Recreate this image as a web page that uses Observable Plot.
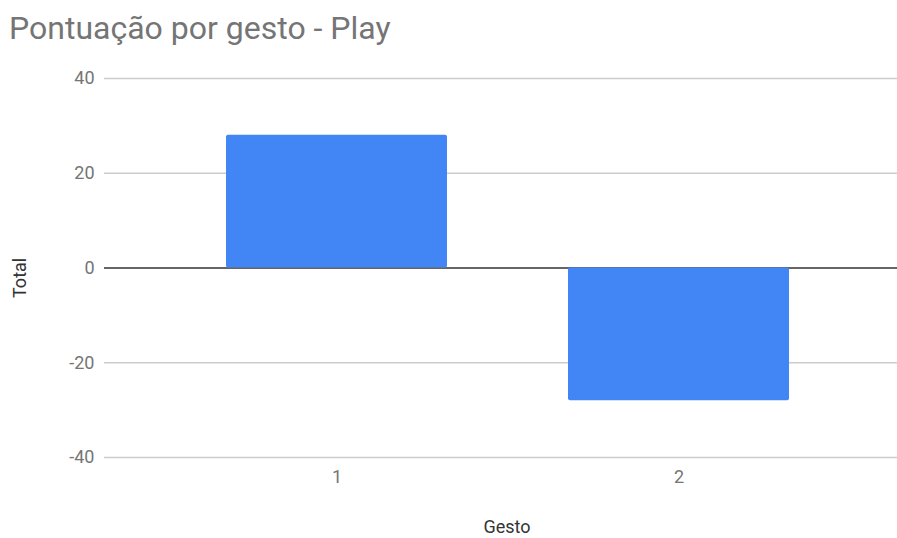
<!DOCTYPE html>
<html><head><meta charset="utf-8">
<script src="https://cdn.jsdelivr.net/npm/d3@7"></script>
<script src="https://cdn.jsdelivr.net/npm/@observablehq/plot@0.6"></script>
<style>
body{margin:0;background:#fff;font-family:Roboto,sans-serif;overflow:hidden;}
#wrap{position:relative;width:897px;height:538px;}
#title{position:absolute;left:9px;top:10px;font-size:32px;color:#757575;line-height:36px;white-space:nowrap;}
#chart svg{display:block;}
</style></head><body>
<div id="wrap">
<div id="chart"></div>
<div id="title"></div>
</div>
<script>
const title = "Pontuação por gesto - Play";
const gestos = ["1", "2"];
const totals = [28, -28];
const yTicks = [-40, -20, 0, 20, 40];
const xLabel = "Gesto";
const yLabel = "Total";

document.getElementById("title").textContent = title;
const data = gestos.map((g, i) => ({g, v: totals[i]}));

const chart = Plot.plot({
  width: 897,
  height: 538,
  marginTop: 78,
  marginBottom: 81,
  marginLeft: 104,
  marginRight: 0,
  style: {fontFamily: "Roboto, sans-serif", fontSize: "18px", background: "#fff"},
  x: {domain: gestos, paddingInner: 0.353, paddingOuter: 0.3325, align: 0.53, label: null},
  y: {domain: [-40, 40], label: null},
  marks: [
    Plot.ruleY(yTicks.filter(d => d !== 0), {stroke: "#cccccc", strokeWidth: 1.3}),
    Plot.ruleY([0], {stroke: "#333333", strokeWidth: 1.5}),
    Plot.barY(data, {x: "g", y: "v", fill: "#4285F4", rx: 2}),
    Plot.axisY({ticks: yTicks, tickFormat: d => String(d), tickSize: 0, tickPadding: 10, fontSize: 18, color: "#757575", fill: "#757575", label: null}),
    Plot.axisX({tickSize: 0, tickPadding: 13, fontSize: 18, color: "#757575", fill: "#757575", label: null}),
    Plot.text([yLabel], {text: d => d, frameAnchor: "left", dx: -84, dy: 30, rotate: -90, fontSize: 18, fill: "#333"}),
    Plot.text([xLabel], {text: d => d, frameAnchor: "bottom", dx: 6, dy: 75, fontSize: 18, fill: "#333"})
  ]
});
document.getElementById("chart").appendChild(chart);
</script>
</body></html>
